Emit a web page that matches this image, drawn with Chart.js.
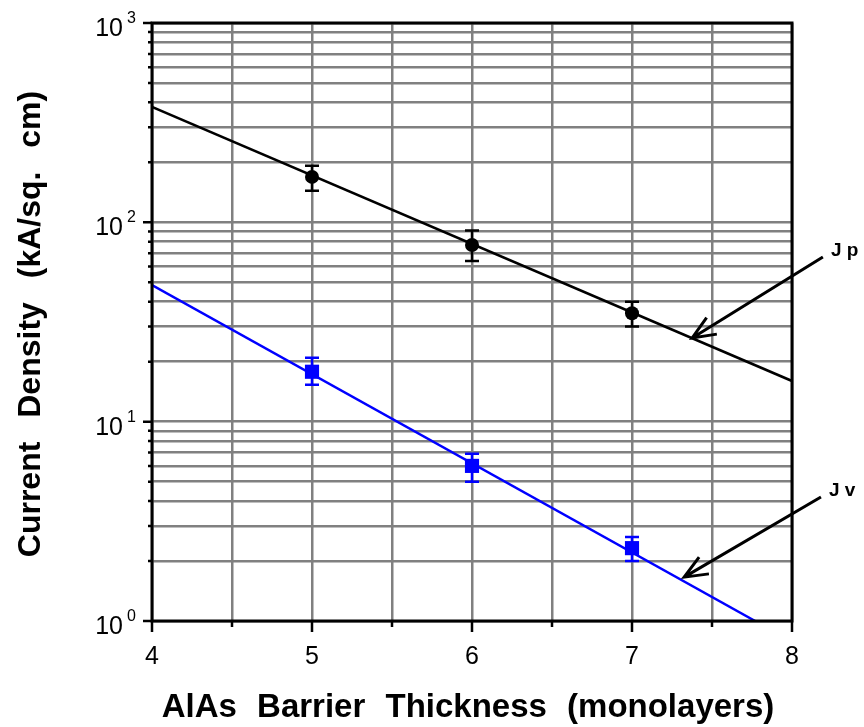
<!DOCTYPE html>
<html>
<head>
<meta charset="utf-8">
<script src="https://cdn.jsdelivr.net/npm/chart.js@4/dist/chart.umd.min.js"></script>
<style>
  html, body { margin: 0; padding: 0; background: #fff; }
  #wrap { width: 864px; height: 727px; }
</style>
</head>
<body>
<div id="wrap"><canvas id="chart" width="864" height="727"></canvas></div>
<script>
// barrier thickness (monolayers) of the measured samples
const thickness = [5, 6, 7];

// peak current density Jp (kA/cm^2) with error bounds
const jpMean = [169, 77, 35];
const jpUpper = [192, 91, 40];
const jpLower = [144, 64, 30];

// valley current density Jv (kA/cm^2) with error bounds
const jvMean = [17.8, 6.0, 2.32];
const jvUpper = [20.9, 6.9, 2.64];
const jvLower = [15.3, 5.0, 2.0];

// exponential fits, end points
const jpFitX = [4, 8];
const jpFitY = [379, 16];
const jvFitX = [4, 7.77];
const jvFitY = [48.5, 1];

// axis ticks
const xTickValues = [4, 4.5, 5, 5.5, 6, 6.5, 7, 7.5, 8];
const xLabelValues = [4, 5, 6, 7, 8];
const yGridValues = [
  1, 2, 3, 4, 5, 6, 7, 8, 9,
  10, 20, 30, 40, 50, 60, 70, 80, 90,
  100, 200, 300, 400, 500, 600, 700, 800, 900,
  1000
];
const yDecades = [1, 10, 100, 1000];
const yExponents = ["0", "1", "2", "3"];

// arrow annotations: tail and tip in data units
const arrows = [
  { label: "J p", from: [8.193, 67.0], to: [7.376, 26.3] },
  { label: "J v", from: [8.181, 4.19], to: [7.326, 1.66] }
];

const FONT = "'Liberation Sans', Arial, Helvetica, sans-serif";
const GRID = "#808080";
const BLUE = "#0000ff";

const pts = (xs, ys) => xs.map((x, i) => ({ x: x, y: ys[i] }));

const errorBars = {
  id: "errorBars",
  beforeDatasetsDraw(chart) {
    const { ctx, scales: { x, y } } = chart;
    const sets = [
      { lo: jpLower, hi: jpUpper, color: "#000" },
      { lo: jvLower, hi: jvUpper, color: BLUE }
    ];
    ctx.save();
    ctx.lineWidth = 2.5;
    sets.forEach((s) => {
      ctx.strokeStyle = s.color;
      thickness.forEach((t, i) => {
        const px = x.getPixelForValue(t);
        const top = y.getPixelForValue(s.hi[i]);
        const bot = y.getPixelForValue(s.lo[i]);
        ctx.beginPath();
        ctx.moveTo(px, top);
        ctx.lineTo(px, bot);
        ctx.moveTo(px - 7, top);
        ctx.lineTo(px + 7, top);
        ctx.moveTo(px - 7, bot);
        ctx.lineTo(px + 7, bot);
        ctx.stroke();
      });
    });
    ctx.restore();
  }
};

const frame = {
  id: "frame",
  afterDraw(chart) {
    const { ctx, chartArea: a, scales: { x, y } } = chart;
    ctx.save();
    ctx.strokeStyle = "#000";

    // tick marks outside the left and bottom axes
    ctx.lineWidth = 2.5;
    ctx.beginPath();
    yGridValues.forEach((v) => {
      const py = y.getPixelForValue(v);
      const len = yDecades.includes(v) ? 9 : 4;
      ctx.moveTo(a.left - len, py);
      ctx.lineTo(a.left, py);
    });
    xTickValues.forEach((v) => {
      const px = x.getPixelForValue(v);
      const len = xLabelValues.includes(v) ? 11 : 6;
      ctx.moveTo(px, a.bottom);
      ctx.lineTo(px, a.bottom + len);
    });
    ctx.stroke();

    ctx.lineWidth = 3;
    ctx.strokeRect(a.left, a.top, a.right - a.left, a.bottom - a.top);

    // y tick labels as powers of ten
    ctx.fillStyle = "#000";
    ctx.textBaseline = "alphabetic";
    yDecades.forEach((v, i) => {
      const py = y.getPixelForValue(v);
      ctx.font = "25px " + FONT;
      ctx.textAlign = "right";
      ctx.fillText("10", 123, py + 13);
      ctx.font = "16px " + FONT;
      ctx.textAlign = "left";
      ctx.fillText(yExponents[i], 127, py);
    });

    // axis titles
    ctx.font = "bold 33px " + FONT;
    ctx.wordSpacing = "11px";
    ctx.textAlign = "center";
    ctx.fillText("AlAs Barrier Thickness (monolayers)", 468, 717);

    ctx.save();
    ctx.translate(40, 324);
    ctx.rotate(-Math.PI / 2);
    ctx.font = "bold 32px " + FONT;
    ctx.wordSpacing = "15px";
    ctx.fillText("Current Density (kA/sq. cm)", 0, 0);
    ctx.restore();

    // arrows pointing at the fitted lines
    ctx.lineWidth = 3;
    ctx.wordSpacing = "0px";
    arrows.forEach((ar) => {
      const x1 = x.getPixelForValue(ar.from[0]);
      const y1 = y.getPixelForValue(ar.from[1]);
      const x2 = x.getPixelForValue(ar.to[0]);
      const y2 = y.getPixelForValue(ar.to[1]);
      const ang = Math.atan2(y1 - y2, x1 - x2);
      const head = 25;
      ctx.beginPath();
      ctx.moveTo(x1, y1);
      ctx.lineTo(x2, y2);
      ctx.moveTo(x2 + head * Math.cos(ang - 0.4), y2 + head * Math.sin(ang - 0.4));
      ctx.lineTo(x2, y2);
      ctx.lineTo(x2 + head * Math.cos(ang + 0.4), y2 + head * Math.sin(ang + 0.4));
      ctx.stroke();
      ctx.font = "bold 19px " + FONT;
      ctx.textAlign = "left";
      ctx.fillText(ar.label, x1 + 8, y1 - 1);
    });
    ctx.restore();
  }
};

new Chart(document.getElementById("chart"), {
  type: "scatter",
  data: {
    datasets: [
      {
        label: "Jp",
        data: pts(thickness, jpMean),
        pointStyle: "circle",
        pointRadius: 7,
        backgroundColor: "#000",
        borderColor: "#000",
        borderWidth: 0
      },
      {
        label: "Jv",
        data: pts(thickness, jvMean),
        pointStyle: "rect",
        pointRadius: 10,
        backgroundColor: BLUE,
        borderColor: BLUE,
        borderWidth: 0
      },
      {
        label: "Jp fit",
        data: pts(jpFitX, jpFitY),
        showLine: true,
        borderColor: "#000",
        borderWidth: 2.5,
        pointRadius: 0
      },
      {
        label: "Jv fit",
        data: pts(jvFitX, jvFitY),
        showLine: true,
        borderColor: BLUE,
        borderWidth: 2.5,
        pointRadius: 0
      }
    ]
  },
  options: {
    responsive: false,
    animation: false,
    layout: { padding: { top: 23, right: 72, left: 0, bottom: 0 } },
    plugins: { legend: { display: false }, tooltip: { enabled: false } },
    scales: {
      x: {
        type: "linear",
        min: 4,
        max: 8,
        afterBuildTicks: (s) => { s.ticks = xTickValues.map((v) => ({ value: v })); },
        afterFit: (s) => { s.height = 106; },
        ticks: {
          padding: 21,
          color: "#000",
          font: { family: FONT, size: 25 },
          callback: (v) => (xLabelValues.includes(v) ? String(v) : "")
        },
        grid: { color: GRID, lineWidth: 2.5, drawTicks: false },
        border: { display: false }
      },
      y: {
        type: "logarithmic",
        min: 1,
        max: 1000,
        afterBuildTicks: (s) => { s.ticks = yGridValues.map((v) => ({ value: v })); },
        afterFit: (s) => { s.width = 152; },
        ticks: { display: false },
        grid: { color: GRID, lineWidth: 2.5, drawTicks: false },
        border: { display: false }
      }
    }
  },
  plugins: [errorBars, frame]
});
</script>
</body>
</html>
